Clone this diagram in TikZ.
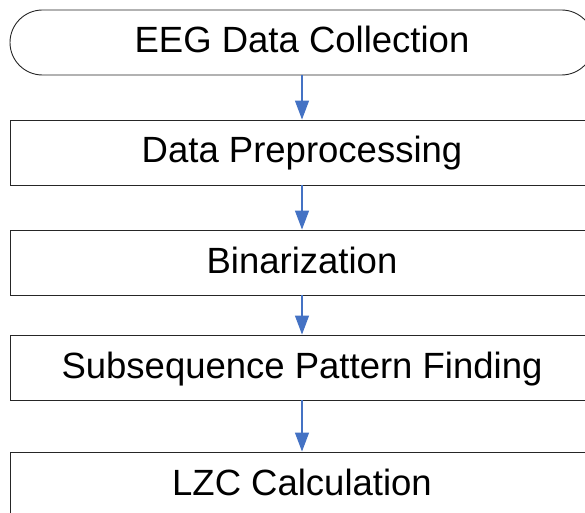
\documentclass[tikz,border=0pt]{standalone}
\usepackage{fontspec}
\setmainfont{Liberation Sans}
\usetikzlibrary{arrows.meta}
\definecolor{arrowblue}{HTML}{4472C4}
\begin{document}
\begin{tikzpicture}[x=1pt,y=1pt,
  stepbox/.style={draw=black!85, line width=0.9pt, minimum width=584pt, minimum height=65pt,
    inner sep=0pt, text height=26pt, text depth=5pt, font=\fontsize{36.5}{40}\selectfont},
  flow/.style={draw=arrowblue, line width=1.3pt, -{Triangle[width=14pt,length=19pt,fill=arrowblue]}}]
\useasboundingbox (0,0) rectangle (585,512);
\clip (0,0) rectangle (585,512);
\node[stepbox, rounded corners=32.5pt] (s1) at (302,469.5) {EEG Data Collection};
\node[stepbox] (s2) at (302,359.5) {Data Preprocessing};
\node[stepbox] (s3) at (302,249.5) {Binarization};
\node[stepbox] (s4) at (302,144.5) {Subsequence Pattern Finding};
\node[stepbox] (s5) at (302,27.5) {LZC Calculation};
\draw[flow] (s1) -- (s2);
\draw[flow] (s2) -- (s3);
\draw[flow] (s3) -- (s4);
\draw[flow] (s4) -- (s5);
\end{tikzpicture}
\end{document}
